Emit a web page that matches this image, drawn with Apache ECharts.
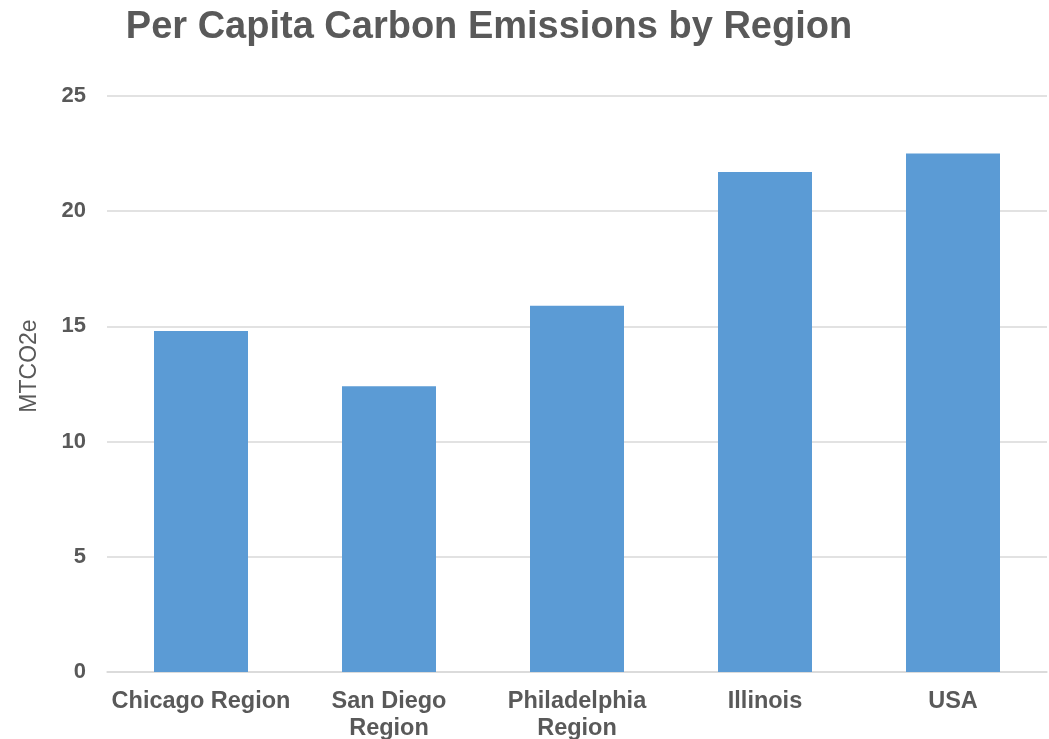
<!DOCTYPE html>
<html><head><meta charset="utf-8">
<script src="https://cdn.jsdelivr.net/npm/echarts@6/dist/echarts.min.js"></script>
<style>html,body{margin:0;padding:0;background:#fff}#c{width:1049px;height:739px}</style>
</head><body><div id="c"></div>
<script>
const categories = ['Chicago Region', 'San Diego\nRegion', 'Philadelphia\nRegion', 'Illinois', 'USA'];
const values = [14.8, 12.4, 15.9, 21.7, 22.5];
const yTicks = { min: 0, max: 25, interval: 5 };

const chart = echarts.init(document.getElementById('c'));
chart.setOption({
  animation: false,
  title: {
    text: 'Per Capita Carbon Emissions by Region',
    left: 484, top: 4, textAlign: 'center',
    textStyle: { fontFamily: 'Liberation Sans', fontWeight: 'bold', fontSize: 38, color: '#595959' }
  },
  grid: { left: 107, right: 2, top: 96, bottom: 67, containLabel: false, outerBoundsMode: 'none' },
  xAxis: {
    type: 'category', data: categories,
    axisLine: { lineStyle: { color: '#d9d9d9', width: 1.5 } },
    axisTick: { show: false },
    axisLabel: { fontFamily: 'Liberation Sans', fontWeight: 'bold', fontSize: 23.5, color: '#595959', margin: 16, lineHeight: 27, interval: 0 }
  },
  yAxis: {
    type: 'value', min: yTicks.min, max: yTicks.max, interval: yTicks.interval,
    name: 'MTCO2e', nameLocation: 'middle', nameGap: 66, nameRotate: 90,
    nameTextStyle: { fontFamily: 'Liberation Sans', fontSize: 23, color: '#595959', padding: [0, 0, 0, 36] },
    axisLine: { show: false }, axisTick: { show: false },
    splitLine: { lineStyle: { color: '#d9d9d9', width: 1.5 } },
    axisLabel: { fontFamily: 'Liberation Sans', fontWeight: 'bold', fontSize: 22, color: '#595959', margin: 21 }
  },
  series: [{
    type: 'bar', data: values, barWidth: '50%',
    itemStyle: { color: '#5B9BD5' }
  }]
});
</script></body></html>
